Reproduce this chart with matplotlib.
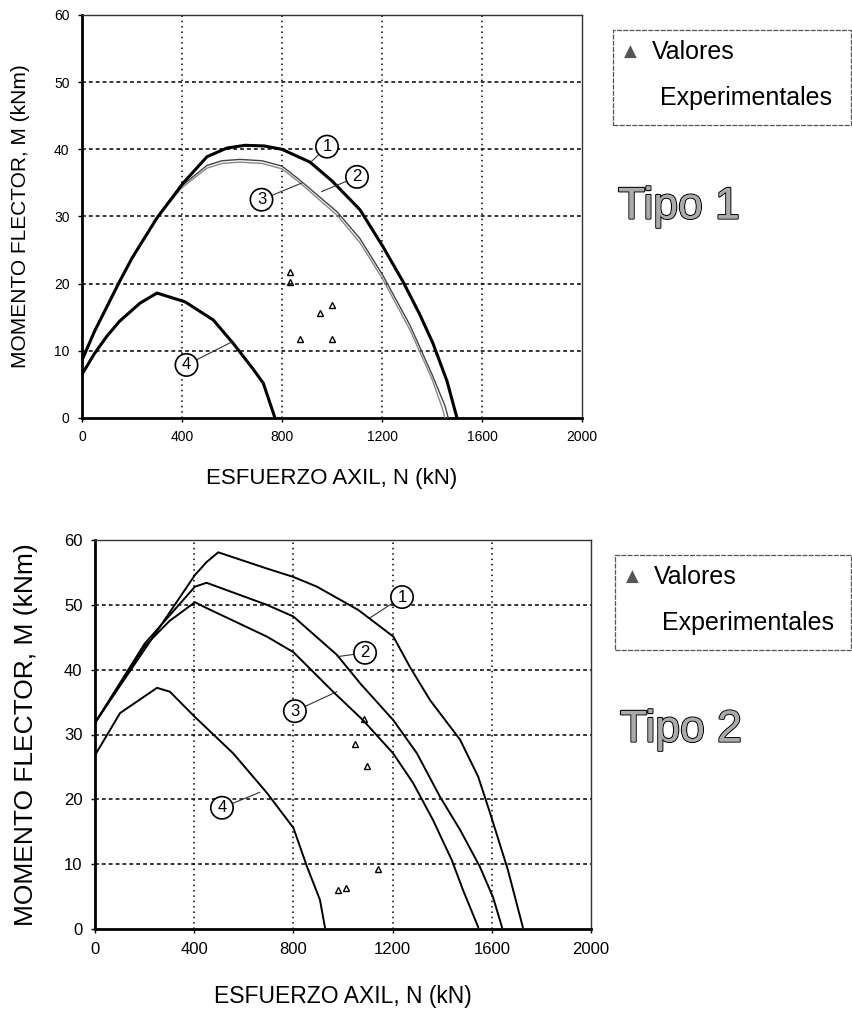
import numpy as np
import matplotlib.pyplot as plt
from matplotlib.patches import Rectangle
import matplotlib.patheffects as pe

plt.rcParams['font.family'] = ['Liberation Sans', 'DejaVu Sans']

# ---- Tipo 1 ----
t1_c1_n = [0, 50, 100, 150, 200, 300, 405, 500, 580, 652, 730, 800, 912, 1000, 1112, 1204, 1284, 1350, 1404, 1460, 1500]
t1_c1_m = [8.6, 12.9, 16.6, 20.3, 23.8, 29.8, 35.0, 38.9, 40.2, 40.6, 40.5, 40.0, 38.1, 35.3, 31.0, 25.5, 20.3, 15.5, 11.1, 5.5, 0.0]

t1_c2_n = [0, 50, 100, 150, 200, 300, 400, 500, 560, 632, 720, 800, 872, 1020, 1112, 1204, 1312, 1400, 1452, 1465]
t1_c2_m = [8.6, 12.9, 16.6, 20.3, 23.8, 29.8, 34.6, 37.6, 38.3, 38.5, 38.3, 37.5, 35.4, 30.7, 26.7, 21.2, 13.8, 6.5, 1.8, 0.0]

t1_c3_n = [0, 50, 100, 150, 200, 300, 400, 500, 560, 632, 720, 800, 872, 1020, 1112, 1204, 1312, 1400, 1440, 1452]
t1_c3_m = [8.6, 12.9, 16.6, 20.3, 23.8, 29.8, 34.3, 37.2, 37.9, 38.1, 37.9, 37.1, 35.0, 30.2, 26.1, 20.6, 13.1, 5.8, 1.6, 0.0]

t1_c4_n = [0, 50, 100, 150, 232, 300, 412, 525, 605, 680, 725, 772]
t1_c4_m = [6.5, 9.6, 12.2, 14.4, 17.1, 18.6, 17.3, 14.6, 11.1, 7.5, 5.2, 0.0]

t1_exp_n = [832, 832, 952, 1000, 872, 1000]
t1_exp_m = [21.8, 20.3, 15.7, 16.8, 11.7, 11.7]

# ---- Tipo 2 ----
t2_c1_n = [0, 403, 450, 497, 693, 800, 895, 1062, 1203, 1270, 1351, 1472, 1545, 1593, 1665, 1725]
t2_c1_m = [31.8, 54.6, 56.6, 58.1, 55.6, 54.3, 52.8, 49.2, 45.1, 40.4, 35.3, 29.2, 23.5, 17.9, 9.1, 0.3]

t2_c2_n = [0, 200, 403, 450, 693, 800, 975, 1069, 1203, 1298, 1391, 1472, 1552, 1605, 1641]
t2_c2_m = [31.8, 44.0, 52.8, 53.4, 50.0, 48.2, 42.3, 37.9, 32.2, 27.1, 20.4, 15.3, 9.6, 4.9, 0.3]

t2_c3_n = [0, 200, 300, 403, 450, 693, 800, 960, 1081, 1202, 1283, 1363, 1439, 1484, 1545]
t2_c3_m = [31.8, 43.6, 47.5, 50.4, 49.5, 45.1, 42.7, 36.6, 32.2, 27.1, 22.5, 16.8, 10.6, 6.0, 0.3]

t2_c4_n = [0, 101, 250, 302, 403, 557, 693, 800, 855, 907, 927]
t2_c4_m = [26.8, 33.3, 37.2, 36.6, 32.7, 27.1, 21.0, 15.6, 9.6, 4.5, 0.3]

t2_exp_n = [1085, 1048, 1097, 1141, 980, 1012]
t2_exp_m = [32.4, 28.5, 25.1, 9.2, 6.0, 6.3]

xticks = [0, 400, 800, 1200, 1600, 2000]
yticks = [0, 10, 20, 30, 40, 50, 60]
x_title = 'ESFUERZO AXIL, N (kN)'
y_title = 'MOMENTO FLECTOR, M (kNm)'
legend_lines = ['Valores', 'Experimentales']
panel_names = ['Tipo 1', 'Tipo 2']

# circled curve labels: (text, label position, curve point)
t1_tags = [('1', (980, 40.4), (918, 38.2)), ('2', (1100, 35.9), (958, 33.7)),
           ('3', (718, 32.5), (880, 35.0)), ('4', (418, 7.9), (598, 11.3))]
t2_tags = [('1', (1238, 51.2), (1109, 48.0)), ('2', (1089, 42.6), (976, 42.0)),
           ('3', (806, 33.6), (975, 36.6)), ('4', (512, 18.7), (665, 21.1))]

W, H = 852, 1011
fig = plt.figure(figsize=(W / 100, H / 100), dpi=100)


def frame(ax, tick_fs, xlab_fs, ylab_fs, ylab_x, xlab_y):
    ax.set_xlim(0, 2000)
    ax.set_ylim(0, 60)
    ax.set_xticks(xticks)
    ax.set_yticks(yticks)
    ax.tick_params(direction='out', length=3, width=1, labelsize=tick_fs, pad=6)
    ax.grid(False)
    for y in yticks[1:-1]:
        ax.axhline(y, color='black', lw=1.1, ls=(0, (2.5, 2)), zorder=1)
    for x in xticks[1:-1]:
        ax.axvline(x, color='black', lw=1.1, ls=(0, (1, 2.5)), zorder=1)
    ax.spines['left'].set_linewidth(2)
    ax.spines['bottom'].set_linewidth(2)
    ax.spines['top'].set_linewidth(1)
    ax.spines['right'].set_linewidth(1)
    ax.spines['top'].set_color('#333333')
    ax.spines['right'].set_color('#333333')
    ax.set_xlabel(x_title, fontsize=xlab_fs)
    ax.set_ylabel(y_title, fontsize=ylab_fs)
    ax.yaxis.set_label_coords(ylab_x, 0.5)
    ax.xaxis.set_label_coords(0.5, xlab_y)


def tags(ax, items):
    for t, pos, pt in items:
        ax.annotate(t, xy=pt, xytext=pos, ha='center', va='center', fontsize=12,
                    bbox=dict(boxstyle='circle,pad=0.22', fc='white', ec='black', lw=1.2),
                    arrowprops=dict(arrowstyle='-', lw=0.8, color='#333333',
                                    shrinkA=0, shrinkB=0), zorder=6)


def side_box(x0, y0, x1, y1, name, name_y):
    fx0, fx1 = x0 / W, x1 / W
    fy0, fy1 = 1 - y1 / H, 1 - y0 / H
    fig.patches.append(Rectangle((fx0, fy0), fx1 - fx0, fy1 - fy0, transform=fig.transFigure,
                                 fill=False, ec='#555555', lw=0.9, ls=(0, (4, 1))))
    hgt = fy1 - fy0
    fig.text(fx0 + 17 / W, fy1 - 0.23 * hgt, '\u25B2', fontsize=12, color='#555555',
             ha='center', va='center', family=['DejaVu Sans'])
    fig.text(fx0 + 39 / W, fy1 - 0.23 * hgt, legend_lines[0], fontsize=18, va='center')
    fig.text(fx0 + 47 / W, fy1 - 0.72 * hgt, legend_lines[1], fontsize=18, va='center')
    fig.text(fx0 + 5 / W, 1 - name_y / H, name, fontsize=32, va='center', color='#aaaaaa',
             path_effects=[pe.withStroke(linewidth=1.6, foreground='black'), pe.Normal()])


# top panel
ax1 = fig.add_axes([82 / W, 1 - 418 / H, 500 / W, 403 / H])
frame(ax1, 10, 16, 15, -0.104, -0.125)
ax1.plot(t1_c1_n, t1_c1_m, color='black', lw=2.2, zorder=4)
ax1.plot(t1_c2_n, t1_c2_m, color='#444444', lw=1.0, zorder=3)
ax1.plot(t1_c3_n, t1_c3_m, color='#888888', lw=1.0, zorder=3)
ax1.plot(t1_c4_n, t1_c4_m, color='black', lw=2.2, zorder=4)
ax1.plot(t1_exp_n, t1_exp_m, ls='none', marker='^', ms=5, mfc='none', mec='black', mew=1, zorder=5)
tags(ax1, t1_tags)
side_box(613, 30, 851, 125, panel_names[0], 207)

# bottom panel
ax2 = fig.add_axes([95 / W, 1 - 929 / H, 496 / W, 389 / H])
frame(ax2, 12, 16.5, 19, -0.115, -0.145)
for n, m in [(t2_c1_n, t2_c1_m), (t2_c2_n, t2_c2_m), (t2_c3_n, t2_c3_m), (t2_c4_n, t2_c4_m)]:
    ax2.plot(n, m, color='black', lw=1.4, zorder=4)
ax2.plot(t2_exp_n, t2_exp_m, ls='none', marker='^', ms=5, mfc='none', mec='black', mew=1, zorder=5)
tags(ax2, t2_tags)
side_box(615, 555, 851, 650, panel_names[1], 730)

fig.savefig('out.png', dpi=100)
